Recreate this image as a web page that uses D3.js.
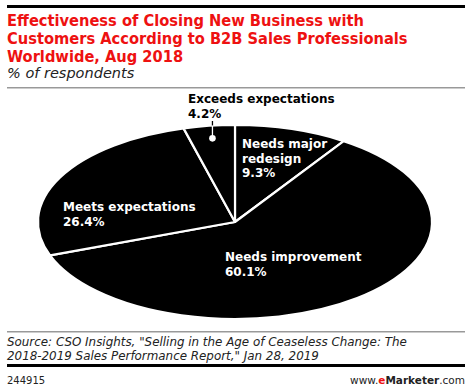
<!DOCTYPE html>
<html>
<head>
<meta charset="utf-8">
<script src="https://cdn.jsdelivr.net/npm/d3@7"></script>
<style>
  body { margin: 0; background: #fff; }
  svg { display: block; }
  text { font-family: "DejaVu Sans", Verdana, sans-serif; }
</style>
</head>
<body>
<div id="chart"></div>
<script>
// data
const categories = ["Needs major redesign", "Needs improvement", "Meets expectations", "Exceeds expectations"];
const values = [9.3, 60.1, 26.4, 4.2];
const labelLines = [["Needs major", "redesign"], ["Needs improvement"], ["Meets expectations"], ["Exceeds expectations"]];

const titleLines = ["Effectiveness of Closing New Business with",
  "Customers According to B2B Sales Professionals",
  "Worldwide, Aug 2018"];
const subtitle = "% of respondents";
const sourceLines = ["Source: CSO Insights, \"Selling in the Age of Ceaseless Change: The",
  "2018-2019 Sales Performance Report,\" Jan 28, 2019"];
const chartId = "244915";

const width = 470, height = 388;

const svg = d3.select("#chart").append("svg")
  .attr("width", width)
  .attr("height", height);

// ---- header ----
svg.append("rect").attr("x", 7).attr("y", 5).attr("width", 458).attr("height", 3).attr("fill", "#000");

svg.append("g").selectAll("text")
  .data(titleLines)
  .join("text")
  .attr("x", 7)
  .attr("y", (d, i) => 26 + i * 18)
  .attr("fill", "#ee1111")
  .attr("font-weight", "bold")
  .attr("font-size", 16.3)
  .style("font-family", "'DejaVu Sans Condensed', 'DejaVu Sans', sans-serif")
  .text(d => d);

svg.append("text")
  .attr("x", 7).attr("y", 78)
  .attr("font-size", 14.5)
  .attr("font-style", "italic")
  .attr("fill", "#222")
  .text(subtitle);

svg.append("rect").attr("x", 7).attr("y", 87).attr("width", 458).attr("height", 1.5).attr("fill", "#999");

// ---- pie (drawn as a circle, squashed into an ellipse) ----
const cx = 235, cy = 222, rx = 197, ry = 97;

const pie = d3.pie().sort(null).value(d => d.value);
const arcs = pie(categories.map((c, i) => ({name: c, value: values[i]})));

const arc = d3.arc().innerRadius(0).outerRadius(rx);

const pieG = svg.append("g")
  .attr("transform", `translate(${cx},${cy}) scale(1,${ry / rx})`);

pieG.selectAll("path")
  .data(arcs)
  .join("path")
  .attr("d", arc)
  .attr("fill", "#000")
  .attr("stroke", "#fff")
  .attr("stroke-width", 2.2)
  .attr("stroke-linejoin", "round")
  .attr("vector-effect", "non-scaling-stroke");

// map polar (angle, radius fraction) to the ellipse
const ellipsePt = (angle, r) => [cx + rx * r * Math.sin(angle), cy - ry * r * Math.cos(angle)];

// label anchors (layout only)
const labelPos = [
  {x: 242, y: 148, color: "#fff"},
  {x: 225, y: 261, color: "#fff"},
  {x: 63, y: 211, color: "#fff"},
  {x: 188, y: 103, color: "#000"}
];

const labels = svg.append("g")
  .attr("font-weight", "bold")
  .attr("font-size", 12);

arcs.forEach((a, i) => {
  const p = labelPos[i];
  const lines = labelLines[i].concat([d3.format(".1f")(a.data.value) + "%"]);
  labels.append("text")
    .attr("fill", p.color)
    .selectAll("tspan")
    .data(lines)
    .join("tspan")
    .attr("x", p.x)
    .attr("y", (d, j) => p.y + j * 14.7)
    .text(d => d);
});

// leader for the small slice
const small = arcs[3];
const mid = (small.startAngle + small.endAngle) / 2;
const dot = ellipsePt(mid, 0.87);
const edgeY = cy - ry * Math.sqrt(1 - Math.pow((dot[0] - cx) / rx, 2));
svg.append("line")
  .attr("x1", dot[0]).attr("x2", dot[0])
  .attr("y1", 121).attr("y2", edgeY)
  .attr("stroke", "#000").attr("stroke-width", 1.3);
svg.append("line")
  .attr("x1", dot[0]).attr("x2", dot[0])
  .attr("y1", edgeY).attr("y2", dot[1])
  .attr("stroke", "#fff").attr("stroke-width", 1.3);
svg.append("circle")
  .attr("cx", dot[0]).attr("cy", dot[1]).attr("r", 3.3)
  .attr("fill", "#fff");

// ---- footer ----
svg.append("rect").attr("x", 7).attr("y", 331).attr("width", 458).attr("height", 1.5).attr("fill", "#999");

svg.append("g").selectAll("text")
  .data(sourceLines)
  .join("text")
  .attr("x", 7)
  .attr("y", (d, i) => 346 + i * 13.5)
  .attr("font-size", 11.9)
  .attr("font-style", "italic")
  .attr("fill", "#222")
  .text(d => d);

svg.append("rect").attr("x", 7).attr("y", 364).attr("width", 458).attr("height", 3).attr("fill", "#000");

svg.append("text")
  .attr("x", 7).attr("y", 384)
  .attr("font-size", 10)
  .attr("fill", "#222")
  .text(chartId);

const brand = svg.append("text")
  .attr("x", 465).attr("y", 384)
  .attr("text-anchor", "end")
  .attr("font-size", 10.5)
  .attr("fill", "#222");
brand.append("tspan").text("www.");
brand.append("tspan").attr("fill", "#ee1111").attr("font-weight", "bold").text("e");
brand.append("tspan").attr("font-weight", "bold").text("Marketer");
brand.append("tspan").text(".com");
</script>
</body>
</html>
